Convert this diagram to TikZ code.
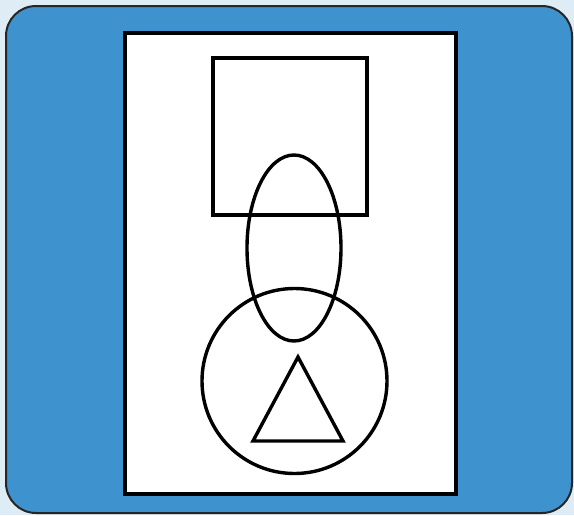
\documentclass[tikz,border=0pt]{standalone}
\definecolor{panelblue}{RGB}{62,146,206}
\definecolor{outside}{RGB}{222,236,246}
\begin{document}
\begin{tikzpicture}[x=1pt,y=-1pt,
  shape line/.style={draw=black,line width=3.4pt}]
\useasboundingbox (0,0) rectangle (574,515);
\fill[outside] (0,0) rectangle (574,515);
\draw[fill=panelblue,draw=black!85,line width=2pt,rounded corners=30pt] (6,6) rectangle (572,513);
\draw[fill=white,draw=black,line width=3.8pt] (125,33) rectangle (456,494);
\draw[shape line] (213,58) rectangle (367,215);
\draw[shape line] (294,248) ellipse [x radius=47, y radius=93];
\draw[shape line] (294.5,381) circle [radius=92.5];
\draw[shape line,line join=miter] (298,357) -- (343,441) -- (253,441) -- cycle;
\end{tikzpicture}
\end{document}
